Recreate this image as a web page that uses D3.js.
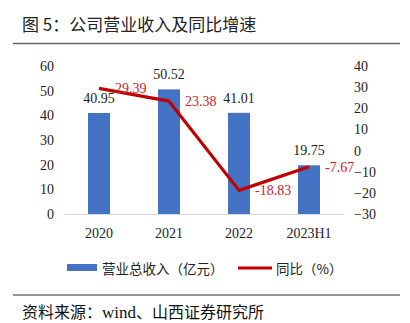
<!DOCTYPE html>
<html>
<head>
<meta charset="utf-8">
<script src="https://cdn.jsdelivr.net/npm/d3@7"></script>
<style>
html,body{margin:0;padding:0;background:#fff;}
svg{display:block;}
</style>
</head>
<body>
<svg id="chart" width="410" height="323"></svg>
<script>
const categories = ["2020", "2021", "2022", "2023H1"];
const revenue = [40.95, 50.52, 41.01, 19.75];
const growth = [29.39, 23.38, -18.83, -7.67];
const leftTicks = [0, 10, 20, 30, 40, 50, 60];
const rightTicks = [-30, -20, -10, 0, 10, 20, 30, 40];
const titleText = "图 5：公司营业收入及同比增速";
const sourceParts = ["资料来源：", "wind", "、山西证券研究所"];
const legendBar = "营业总收入（亿元）";
const legendLine = "同比（%）";

const svg = d3.select("#chart");
const cjk = "'Noto Sans CJK SC', 'Noto Sans', sans-serif";
const serif = "'Liberation Serif', 'DejaVu Serif', serif";
const blue = "#4472c4", red = "#c00000";

const plot = {left: 64, right: 344, top: 66, bottom: 214};

const x = d3.scaleBand().domain(categories).range([plot.left, plot.right])
  .paddingInner(0.686).paddingOuter(0.343);
const yL = d3.scaleLinear().domain([0, 60]).range([plot.bottom, plot.top]);
const yR = d3.scaleLinear().domain([-30, 40]).range([plot.bottom, plot.top]);

// Title
svg.append("text").attr("x", 22).attr("y", 31).text(titleText)
  .style("font-family", cjk).style("font-size", "17px").attr("fill", "#222");
svg.append("line").attr("x1", 13).attr("x2", 400).attr("y1", 43.5).attr("y2", 43.5)
  .attr("stroke", "#666").attr("stroke-width", 1.5);

// Bars
svg.append("g").selectAll("rect").data(categories).join("rect")
  .attr("x", d => x(d)).attr("width", x.bandwidth())
  .attr("y", (d, i) => yL(revenue[i]))
  .attr("height", (d, i) => yL(0) - yL(revenue[i]))
  .attr("fill", blue);

// x axis
const gx = svg.append("g").attr("transform", `translate(0,${plot.bottom})`)
  .call(d3.axisBottom(x).tickSize(0).tickPadding(14));
gx.select(".domain").attr("stroke", "#d9d9d9").attr("stroke-width", 1);
gx.selectAll("text").style("font-family", serif).style("font-size", "14px").attr("fill", "#222");

// left axis
const gl = svg.append("g").attr("transform", `translate(${plot.left},0)`)
  .call(d3.axisLeft(yL).tickValues(leftTicks).tickSize(0).tickPadding(10));
gl.select(".domain").remove();
gl.selectAll("text").style("font-family", serif).style("font-size", "14px").attr("fill", "#222");

// right axis
const gr = svg.append("g").attr("transform", `translate(${plot.right},0)`)
  .call(d3.axisRight(yR).tickValues(rightTicks).tickSize(0).tickPadding(10));
gr.select(".domain").remove();
gr.selectAll("text").style("font-family", serif).style("font-size", "14px").attr("fill", "#222");

// Bar labels
svg.append("g").selectAll("text").data(categories).join("text")
  .attr("x", d => x(d) + x.bandwidth() / 2)
  .attr("y", (d, i) => yL(revenue[i]) - 10)
  .attr("text-anchor", "middle")
  .text((d, i) => revenue[i].toFixed(2))
  .style("font-family", serif).style("font-size", "14px").attr("fill", "#222");

// Line
const cx = d => x(d) + x.bandwidth() / 2;
const line = d3.line().x((d, i) => cx(categories[i])).y(d => yR(d));
svg.append("path").datum(growth).attr("d", line)
  .attr("fill", "none").attr("stroke", red).attr("stroke-width", 3.2)
  .attr("stroke-linejoin", "round");

// Line labels
svg.append("g").selectAll("text").data(categories).join("text")
  .attr("x", d => cx(d) + 16)
  .attr("y", (d, i) => yR(growth[i]))
  .attr("dy", "0.35em")
  .text((d, i) => growth[i].toFixed(2))
  .style("font-family", serif).style("font-size", "14px").attr("fill", "#d0202a");

// Legend
svg.append("rect").attr("x", 67).attr("y", 264).attr("width", 30).attr("height", 7).attr("fill", blue);
svg.append("text").attr("x", 102).attr("y", 273.5).text(legendBar)
  .style("font-family", cjk).style("font-size", "13.5px").attr("fill", "#222");
svg.append("line").attr("x1", 238).attr("x2", 272).attr("y1", 268).attr("y2", 268)
  .attr("stroke", red).attr("stroke-width", 3.2);
svg.append("text").attr("x", 276).attr("y", 273.5).text(legendLine)
  .style("font-family", cjk).style("font-size", "13.5px").attr("fill", "#222");

// Bottom rule and source
svg.append("line").attr("x1", 13).attr("x2", 400).attr("y1", 295).attr("y2", 295)
  .attr("stroke", "#333").attr("stroke-width", 1);
const src = svg.append("text").attr("x", 22).attr("y", 318)
  .style("font-family", cjk).style("font-size", "16px").attr("fill", "#111");
src.selectAll("tspan").data(sourceParts).join("tspan")
  .text(d => d)
  .style("font-family", (d, i) => i === 1 ? serif : cjk)
  .style("font-size", (d, i) => i === 1 ? "17px" : "16px");
</script>
</body>
</html>
